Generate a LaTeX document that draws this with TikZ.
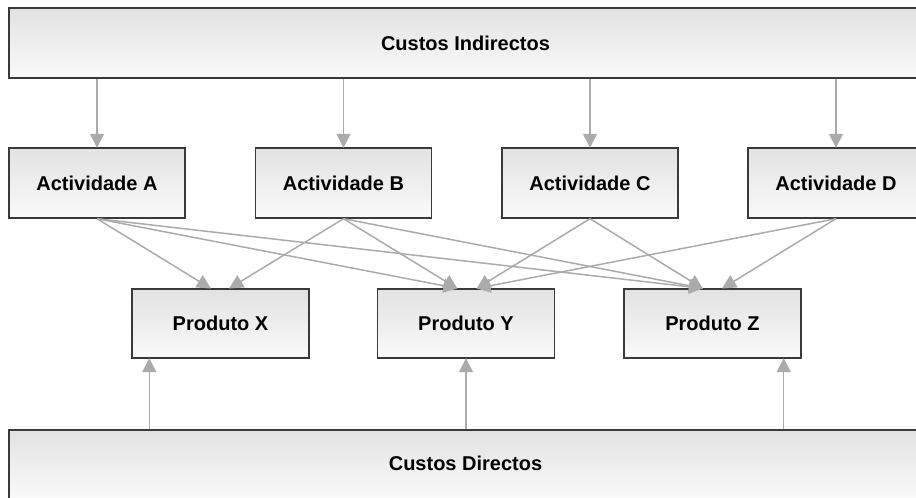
\documentclass[tikz,border=0pt]{standalone}
\usepackage{fontspec}
\setmainfont{Liberation Sans}
\usetikzlibrary{arrows.meta}
\definecolor{boxedge}{HTML}{3A3A3A}
\definecolor{boxtop}{HTML}{E2E2E2}
\definecolor{boxbottom}{HTML}{FAFAFA}
\definecolor{linkgray}{HTML}{ABABAB}
\tikzset{
  labelfont/.style={font=\fontsize{20}{23}\selectfont\bfseries},
  costbox/.style={draw=boxedge, line width=1.4pt, top color=boxtop, bottom color=boxbottom,
    minimum width=913pt, minimum height=70pt, inner sep=0pt, labelfont},
  actbox/.style={draw=boxedge, line width=1.4pt, top color=boxtop, bottom color=boxbottom,
    minimum width=176pt, minimum height=70pt, inner sep=0pt, labelfont},
  prodbox/.style={actbox, minimum width=177pt, minimum height=69pt},
  link/.style={draw=linkgray, line width=1.5pt,
    -{Triangle[width=14pt,length=14pt]}, shorten >=-0.5pt}
}
\begin{document}
\begin{tikzpicture}[x=1pt, y=-1pt]
  \useasboundingbox (0,0) rectangle (916,498);
  \clip (0,0) rectangle (916,498);

  % cost pools
  \node[costbox] (ind) at (465.5,43) {Custos Indirectos};
  \node[costbox] (dir) at (465.5,465) {};
  \node[labelfont] (dirtext) at (465.5,463) {Custos Directos};

  % activities
  \node[actbox] (A) at (97,183)  {Actividade A};
  \node[actbox] (B) at (343.5,183) {Actividade B};
  \node[actbox] (C) at (590,183) {Actividade C};
  \node[actbox] (D) at (836,183) {Actividade D};

  % products
  \node[prodbox] (X) at (220.5,323.5) {Produto X};
  \node[prodbox] (Y) at (466,323.5) {Produto Y};
  \node[prodbox] (Z) at (712.5,323.5) {Produto Z};

  % indirect costs to activities
  \foreach \a in {A,B,C,D}
    \draw[link] (ind.south -| \a.north) -- (\a.north);

  % entry points on the products
  \coordinate (XL) at ([xshift=-10pt]X.north);
  \coordinate (XR) at ([xshift=9pt]X.north);
  \coordinate (YL) at ([xshift=-9pt]Y.north);
  \coordinate (YR) at ([xshift=11pt]Y.north);
  \coordinate (ZL) at ([xshift=-10pt]Z.north);
  \coordinate (ZR) at ([xshift=10pt]Z.north);

  % activities to products
  \draw[link] (A.south) -- (XL);
  \draw[link] (B.south) -- (XR);
  \draw[link] (A.south) -- (YL);
  \draw[link] (B.south) -- (YL);
  \draw[link] (C.south) -- (YR);
  \draw[link] (D.south) -- (YR);
  \draw[link] (A.south) -- (ZL);
  \draw[link] (B.south) -- (ZL);
  \draw[link] (C.south) -- (ZL);
  \draw[link] (D.south) -- (ZR);

  % direct costs to products
  \coordinate (XB) at ([xshift=18pt]X.south west);
  \coordinate (YB) at (Y.south);
  \coordinate (ZB) at ([xshift=-18pt]Z.south east);
  \foreach \p in {XB,YB,ZB}
    \draw[link] (dir.north -| \p) -- (\p);
\end{tikzpicture}
\end{document}
